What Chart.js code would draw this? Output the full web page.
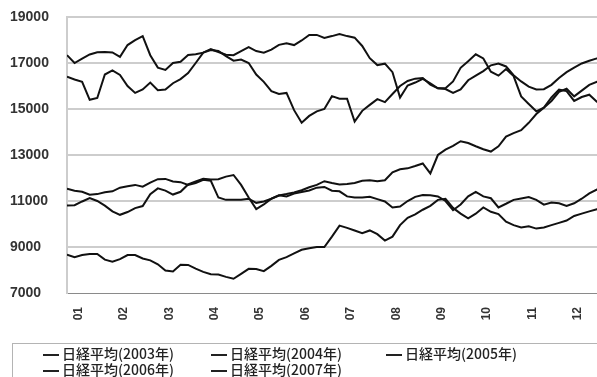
<!DOCTYPE html>
<html lang="ja">
<head>
  <meta charset="UTF-8" />
  <title>日経平均 2003-2007</title>
  <script src="https://cdn.jsdelivr.net/npm/chart.js"></script>
  <style>
    body { margin:0; background:#fff; overflow:hidden; width:597px; height:377px; position:relative; }
    #wrap { position:absolute; left:0; top:0; width:613px; height:377px; }
    #legend { position:absolute; left:12px; top:343px; width:620px; height:60px; border:1px solid #b4b4b4;
              font-family:"Noto Sans CJK JP", sans-serif; font-size:14px; font-weight:500; color:#222; }
    .item { position:absolute; line-height:16px; white-space:nowrap; }
    .item i { display:inline-block; width:16px; height:2px; background:#222; vertical-align:middle; margin-right:3px; }
  </style>
</head>
<body>
<div id="wrap"><canvas id="chart"></canvas></div>
<div id="legend"></div>

<script>
// month labels (x axis), values sampled every 1/6 month
const months = ['01','02','03','04','05','06','07','08','09','10','11','12'];
const yTicks = [7000, 9000, 11000, 13000, 15000, 17000, 19000];
const names = ['日経平均(2003年)','日経平均(2004年)','日経平均(2005年)','日経平均(2006年)','日経平均(2007年)'];

const n2003 = [8670,8560,8650,8700,8700,8450,8360,8470,8650,8650,8500,8420,8250,7980,7940,8230,8220,8060,
  7920,7820,7800,7700,7620,7830,8050,8040,7950,8180,8440,8560,8720,8880,8950,9000,9000,9450,9930,9830,9720,
  9600,9720,9560,9280,9450,9950,10270,10420,10620,10790,11050,11100,10700,10450,10250,10450,10720,10530,10430,
  10100,9950,9850,9900,9800,9850,9950,10050,10150,10350,10450,10550,10640,10680];
const n2004 = [10800,10820,10980,11125,11000,10800,10550,10400,10520,10690,10780,11300,11550,11450,11280,11400,
  11720,11850,11970,11930,11950,12060,12130,11700,11150,10650,10850,11100,11250,11200,11320,11390,11460,11580,
  11610,11450,11420,11200,11150,11150,11180,11080,10980,10720,10760,11000,11180,11260,11250,11200,11000,10600,
  10850,11200,11400,11200,11120,10720,10880,11050,11110,11170,11050,10840,10930,10900,10780,10900,11100,11330,11500,11490];
const n2005 = [11530,11450,11400,11270,11300,11380,11420,11580,11640,11700,11620,11800,11950,11960,11850,11820,
  11700,11780,11920,11880,11150,11050,11050,11050,11100,10920,10980,11100,11240,11300,11370,11470,11600,11700,
  11860,11780,11720,11740,11780,11880,11900,11860,11900,12250,12380,12420,12520,12630,12200,13000,13230,13400,
  13600,13520,13380,13250,13150,13380,13800,13950,14080,14400,14780,15050,15350,15750,15880,15550,15800,16050,16180,16110];
const n2006 = [16400,16280,16180,15400,15480,16500,16680,16480,16000,15700,15850,16150,15820,15850,16120,16300,
  16560,17000,17450,17560,17520,17300,17100,17150,17000,16500,16180,15780,15650,15700,14950,14400,14700,14900,
  15000,15560,15450,15450,14450,14920,15180,15430,15300,15650,16000,16220,16320,16350,16060,15900,15870,15700,
  15850,16250,16450,16650,16900,16980,16850,16470,16200,15970,15850,15860,16050,16350,16600,16800,16980,17100,17200,17230];
const n2007 = [17340,17000,17190,17370,17470,17480,17460,17270,17780,17990,18170,17340,16800,16700,17000,17050,
  17350,17380,17450,17600,17480,17360,17340,17520,17690,17520,17450,17580,17790,17860,17780,17980,18220,18220,
  18090,18170,18260,18170,18100,17740,17210,16910,16970,16600,15500,16020,16150,16310,16120,15900,15900,16200,
  16790,17080,17380,17200,16620,16450,16740,16430,15550,15220,14900,15060,15500,15840,15780,15350,15520,15620,15320,15310];

const series = [n2003, n2004, n2005, n2006, n2007];
const step = 1 / 6;

const datasets = series.map((vals, i) => ({
  label: names[i],
  data: vals.map((v, k) => ({ x: k * step, y: v })),
  borderColor: '#111',
  borderWidth: 2,
  pointRadius: 0,
  tension: 0,
  fill: false
}));

new Chart(document.getElementById('chart'), {
  type: 'line',
  data: { datasets },
  options: {
    responsive: true,
    maintainAspectRatio: false,
    animation: false,
    layout: { padding: { left: 10, top: 17, right: 1, bottom: 0 } },
    plugins: { legend: { display: false }, tooltip: { enabled: false } },
    scales: {
      x: {
        type: 'linear', min: 0, max: 12,
        afterBuildTicks: s => { s.ticks = months.map((m, i) => ({ value: i + 0.25 })); },
        afterFit: s => { s.height = 84; },
        grid: { display: false },
        border: { display: true, color: '#8a8a8a', width: 1, dash: [1, 2] },
        ticks: {
          autoSkip: false, minRotation: 90, maxRotation: 90, padding: 6,
          color: '#333', font: { family: "'Liberation Sans', Arial, sans-serif", size: 12, weight: 'bold' },
          callback: (v, i) => months[i]
        }
      },
      y: {
        min: 7000, max: 19000,
        afterBuildTicks: s => { s.ticks = yTicks.map(v => ({ value: v })); },
        afterFit: s => { s.width = 57; },
        grid: {
          color: c => c.tick && c.tick.value === 7000 ? 'rgba(0,0,0,0)' : '#cdcdcd',
          lineWidth: 2, drawTicks: false
        },
        border: { display: true, color: '#cdcdcd', width: 2 },
        ticks: {
          crossAlign: 'far', padding: 0,
          color: '#333', font: { family: "'Liberation Sans', Arial, sans-serif", size: 14, weight: 'bold' },
          callback: v => String(v)
        }
      }
    }
  }
});

// legend box below the plot
const cols = [30, 198, 373];
const legend = document.getElementById('legend');
names.forEach((nm, i) => {
  const d = document.createElement('div');
  d.className = 'item';
  d.style.left = cols[i % 3] + 'px';
  d.style.top = (1 + Math.floor(i / 3) * 16) + 'px';
  d.innerHTML = '<i></i>' + nm;
  legend.appendChild(d);
});
</script>
</body>
</html>
